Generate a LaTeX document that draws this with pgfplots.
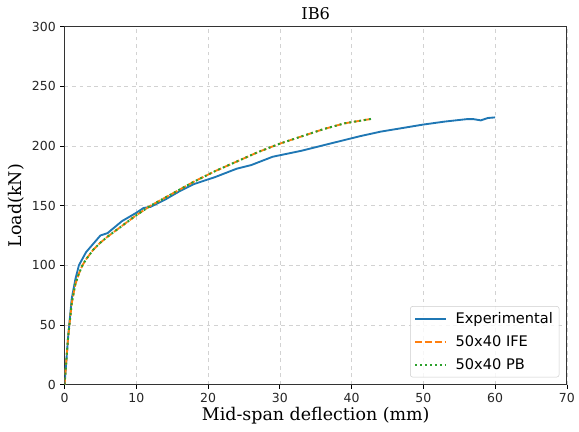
\documentclass[border=0pt]{standalone}
\usepackage{fontspec}
\setmainfont{DejaVu Sans}
\newfontfamily\seriffont{DejaVu Serif}
\usepackage{pgfplots}
\pgfplotsset{compat=1.18}

\definecolor{tabblue}{HTML}{1F77B4}
\definecolor{taborange}{HTML}{FF7F0E}
\definecolor{tabgreen}{HTML}{2CA02C}

\begin{document}
\begin{tikzpicture}
\begin{axis}[
    scale only axis,
    width=403pt, height=287pt,
    xmin=0, xmax=70, ymin=0, ymax=300,
    xtick={0,10,...,70},
    ytick={0,50,...,300},
    tick align=outside,
    tick pos=left,
    major tick length=3.5pt,
    tick style={black, line width=0.6pt},
    axis line style={line width=0.8pt, black!80},
    /pgf/number format/assume math mode=true,
    ticklabel style={font=\fontsize{10}{12}\selectfont, text=black!85},
    grid=major,
    grid style={dashed, gray!35, line width=0.5pt},
    title={\seriffont IB6},
    title style={font=\fontsize{13}{15}\selectfont, yshift=-4pt},
    xlabel={\seriffont Mid-span deflection (mm)},
    ylabel={\seriffont Load(kN)},
    label style={font=\fontsize{14}{16}\selectfont},
    xlabel style={yshift=3pt},
    ylabel style={yshift=-1pt},
    legend style={font=\fontsize{11.7}{13}\selectfont, draw=black!20, rounded corners=2pt,
        fill=white, fill opacity=0.8, text opacity=1, inner sep=3pt,
        row sep=4pt, at={(0.985,0.02)}, anchor=south east},
    legend cell align=left,
    legend image post style={xscale=1.45},
]
\addplot[tabblue, line width=1.5pt] coordinates {
(0,0)(0.5,40)(1,72)(1.5,88)(2,100)(3,111)(4,118)(5,125)(6,127)(7,132)(8,137)
(10,144)(11,148)(12,149)(14,155)(16,162)(18,168)(21,174)(24,181)(26,184)
(29,191)(33,196)(37,202)(41,208)(44,212)(47,215)(50,218)(53,220.5)(56,222.5)
(57,222.5)(58,221.5)(59,223.5)(60,224)
};
\addlegendentry{\hspace{5pt}Experimental}
\addplot[taborange, line width=1.5pt, dash pattern=on 5.5pt off 2.4pt] coordinates {
(0,0)(0.5,40)(1,68)(1.5,84)(2,93)(2.5,100)(3,105)(4,113)(5,119)(6,124)(8,133)
(10,142)(12,150)(15,160)(18,170)(21,179)(24,187)(27,195)(30,202)(33,208)
(36,214)(39,219)(41,221)(43,223)
};
\addlegendentry{\hspace{5pt}50x40 IFE}
\addplot[tabgreen, line width=1.6pt, dash pattern=on 1.6pt off 2.4pt] coordinates {
(0,0)(0.5,40)(1,68)(1.5,84)(2,93)(2.5,100)(3,105)(4,113)(5,119)(6,124)(8,133)
(10,142)(12,150)(15,160)(18,170)(21,179)(24,187)(27,195)(30,202)(33,208)
(36,214)(39,219)(41,221)(43,223)
};
\addlegendentry{\hspace{5pt}50x40 PB}
\coordinate (bbsw) at (rel axis cs:-0.1285,-0.1302);
\coordinate (bbne) at (rel axis cs:1.0158,1.0748);
\end{axis}
\useasboundingbox (bbsw) rectangle (bbne);
\end{tikzpicture}
\end{document}
